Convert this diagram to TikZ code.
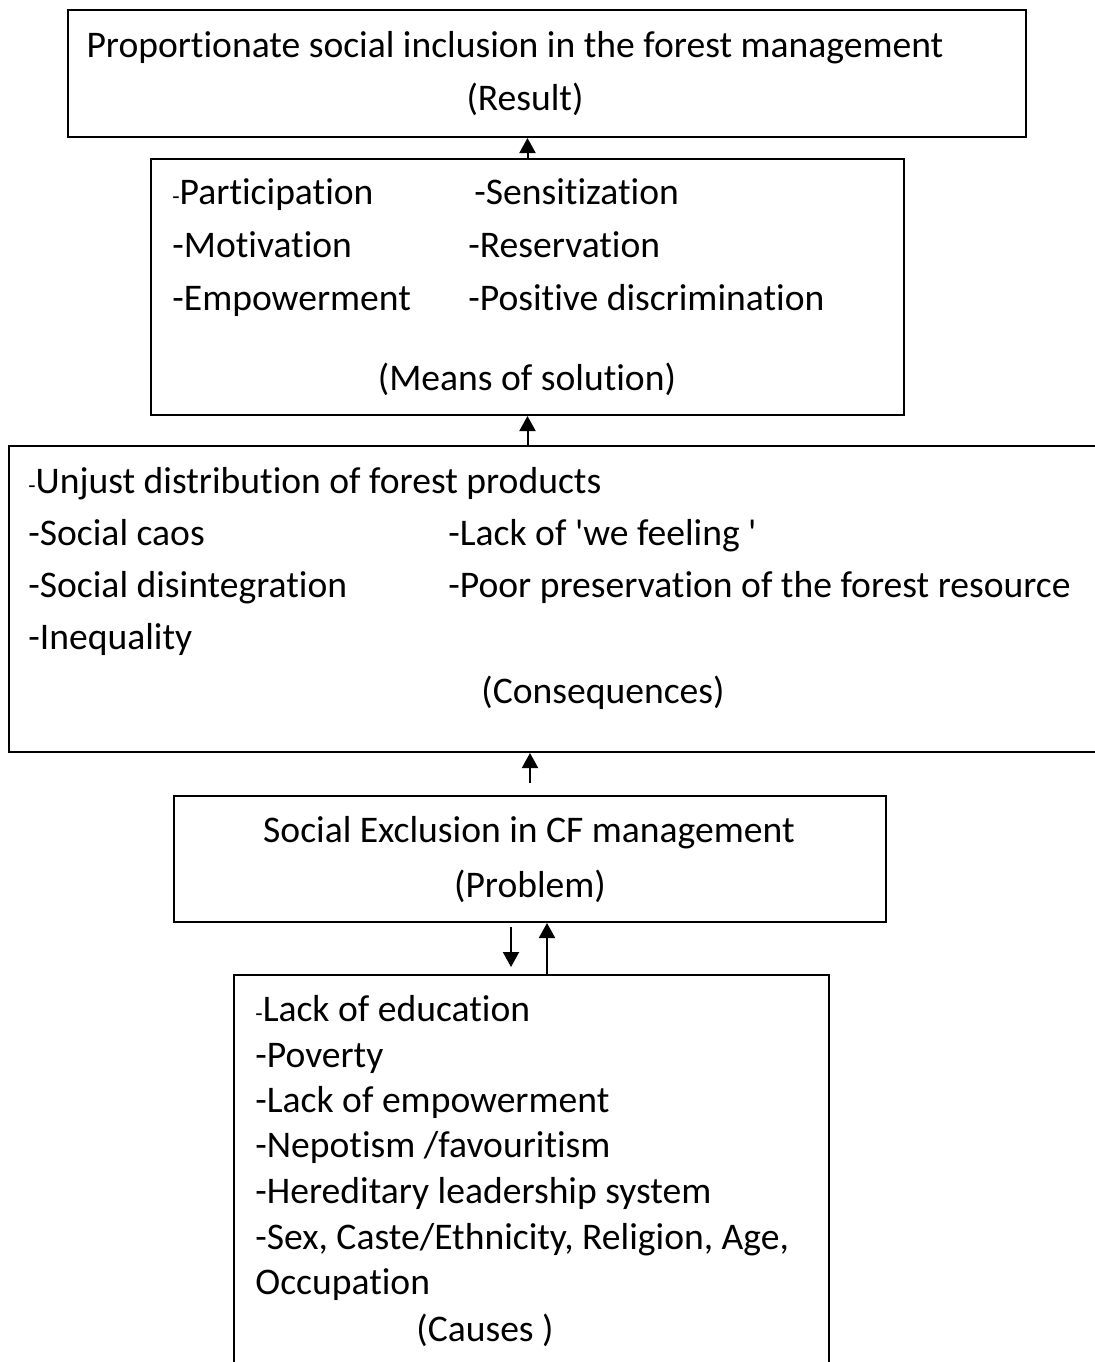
\documentclass[tikz,border=0pt]{standalone}
\usepackage{fontspec}
\setmainfont{Carlito}[Ligatures={NoCommon}]
\usetikzlibrary{arrows.meta}
\usetikzlibrary{fit}

\newcommand{\smdash}{{\fontsize{12}{12}\selectfont -}}

\begin{document}
\begin{tikzpicture}[
     x=0.5pt,y=-0.5pt,
     box/.style={draw,line width=1pt,inner sep=0pt},
     txt/.style={anchor=base west,inner sep=0pt,font=\fontsize{18.8}{23}\selectfont},
     mid/.style={txt,anchor=base},
     arr/.style={line width=1pt,-{Triangle[length=7.5pt,width=8pt]}}
   ]
   \path[use as bounding box] (0,0) rectangle (1094,1362);
   % Boxes.
   \node[box,fit={(68,10) (1026,137)}] (result) {};
   \node[box,fit={(151,159) (904,415)}] (means) {};
   \node[box,fit={(9,446) (1104,752)}] (conseq) {};
   \node[box,fit={(174,796) (886,922)}] (problem) {};
   \node[box,fit={(234,975) (829,1380)}] (causes) {};
   % Result.
   \node[mid] (res1) at (515,57) {Proportionate social inclusion in the forest management};
   \node[mid] (res2) at (525,110) {(Result)};
   % Means of solution.
   \node[txt] (part) at (172,204) {\smdash Participation};
   \node[txt] (moti) at (172,257) {-Motivation};
   \node[txt] (empo) at (172,310) {-Empowerment};
   \node[txt] (sens) at (474,204) {-Sensitization};
   \node[txt] (rese) at (468,257) {-Reservation};
   \node[txt] (posi) at (468,310) {-Positive discrimination};
   \node[mid] (meanslbl) at (527,390) {(Means of solution)};
   % Consequences.
   \node[txt] (unju) at (28,493) {\smdash Unjust distribution of forest products};
   \node[txt] (caos) at (28,545) {-Social caos};
   \node[txt] (disi) at (28,597) {-Social disintegration};
   \node[txt] (ineq) at (28,649) {-Inequality};
   \node[txt] (wefe) at (448,545) {-Lack of \textquotesingle we feeling \textquotesingle};
   \node[txt] (pres) at (448,597) {-Poor preservation of the forest resource};
   \node[mid] (conseqlbl) at (603,703) {(Consequences)};
   % Problem.
   \node[mid] (prob1) at (529,842) {Social Exclusion in CF management};
   \node[mid] (prob2) at (530,897) {(Problem)};
   % Causes.
   \node[txt] (educ) at (255,1021) {\smdash Lack of education};
   \node[txt] (pove) at (255,1067) {-Poverty};
   \node[txt] (lemp) at (255,1112) {-Lack of empowerment};
   \node[txt] (nepo) at (255,1157) {-Nepotism /favouritism};
   \node[txt] (here) at (255,1203) {-Hereditary leadership system};
   \node[txt] (sexc) at (255,1249) {-Sex, Caste/Ethnicity, Religion, Age,};
   \node[txt] (occu) at (255,1294) {Occupation};
   \node[mid] (causeslbl) at (485,1341) {(Causes )};
   % Arrows.
   \draw[arr] (means.north) -- (means.north |- result.south);
   \draw[arr] (means.north |- conseq.north) -- (means.north |- means.south);
   \coordinate (c3) at (530,783);
   \draw[arr] (c3) -- (c3 |- conseq.south);
   \coordinate (d1) at (511,927);
   \coordinate (d2) at (511,967);
   \draw[arr] (d1) -- (d2);
   \coordinate (u1) at (547,975);
   \draw[arr] (u1) -- (u1 |- problem.south);
 \end{tikzpicture}
\end{document}
